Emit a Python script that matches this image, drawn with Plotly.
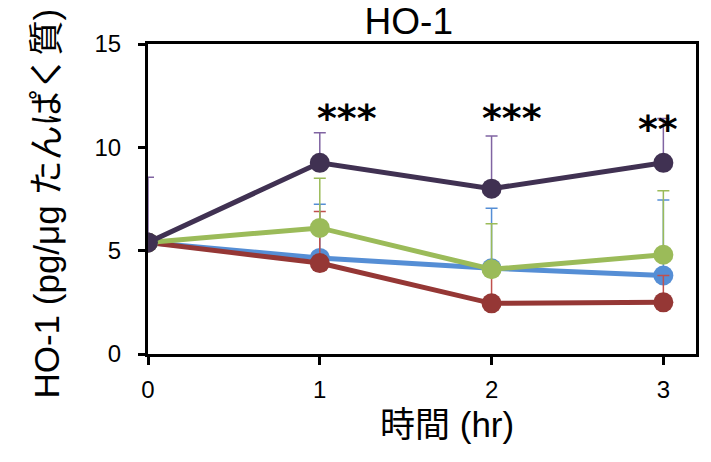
import plotly.graph_objects as go

hours = [0, 1, 2, 3]
tick_labels = ["0", "1", "2", "3"]

blue_vals = [5.4, 4.65, 4.15, 3.8]
blue_err = [0, 2.6, 2.9, 3.65]
red_vals = [5.4, 4.4, 2.45, 2.5]
red_err = [0, 2.5, 1.6, 1.3]
green_vals = [5.4, 6.1, 4.1, 4.8]
green_err = [0, 2.4, 2.2, 3.1]
purple_vals = [5.4, 9.25, 8.0, 9.25]
purple_err = [3.15, 1.45, 2.55, 2.15]

sig_x = [1.16, 2.12, 2.97]
sig_y = [11.4, 11.4, 10.9]
sig_text = ["***", "***", "**"]

series = [
    (blue_vals, blue_err, "#558ED5", "#558ED5"),
    (red_vals, red_err, "#953735", "#C0504D"),
    (green_vals, green_err, "#9BBB59", "#9BBB59"),
    (purple_vals, purple_err, "#403152", "#8064A2"),
]

fig = go.Figure()
for vals, err, col, ecol in series:
    fig.add_trace(go.Scatter(
        x=hours, y=vals, mode="lines+markers",
        line=dict(color=col, width=5),
        marker=dict(color=col, size=20),
        error_y=dict(type="data", symmetric=False, array=err,
                     arrayminus=[0]*len(err), color=ecol, thickness=1.5, width=6),
        showlegend=False,
    ))

for x, y, t in zip(sig_x, sig_y, sig_text):
    fig.add_annotation(x=x, y=y, text="<b>" + t + "</b>", showarrow=False,
                       font=dict(family="DejaVu Sans", size=38, color="black"))

# axis titles as annotations for precise placement
fig.add_annotation(text="時間 (hr)", xref="paper", yref="paper", x=0.545, y=-0.226,
                   xanchor="center", yanchor="middle", showarrow=False,
                   font=dict(size=35, family="Liberation Sans, Noto Sans CJK JP", color="black"))
fig.add_annotation(text="HO-1 (pg/μg たんぱく質)", xref="paper", yref="paper",
                   x=-0.185, y=0.484, xanchor="center", yanchor="middle", textangle=-90,
                   showarrow=False,
                   font=dict(size=35, family="Liberation Sans, Noto Sans CJK JP", color="black"))

font_main = "Liberation Sans, Arial, Noto Sans CJK JP"
fig.update_layout(
    width=711, height=462,
    margin=dict(l=148, r=13, t=44, b=108),
    paper_bgcolor="white", plot_bgcolor="white",
    font=dict(family=font_main, color="black"),
    title=dict(text="HO-1", x=0.575, xanchor="center", y=0.955, yanchor="middle",
               font=dict(size=37, color="black")),
    xaxis=dict(range=[0, 3.19], tickvals=hours, ticktext=tick_labels,
               showline=True, linecolor="black", linewidth=3, mirror=True,
               ticks="outside", ticklen=8, tickwidth=3, tickcolor="black",
               showgrid=False, zeroline=False, tickfont=dict(size=24),
               ticklabelstandoff=4),
    yaxis=dict(range=[0, 15], tickvals=[0, 5, 10, 15],
               showline=True, linecolor="black", linewidth=3, mirror=True,
               ticks="outside", ticklen=7, tickwidth=3, tickcolor="black",
               showgrid=False, zeroline=False, tickfont=dict(size=24),
               ticklabelstandoff=12),
)

fig.write_html("out.html")
